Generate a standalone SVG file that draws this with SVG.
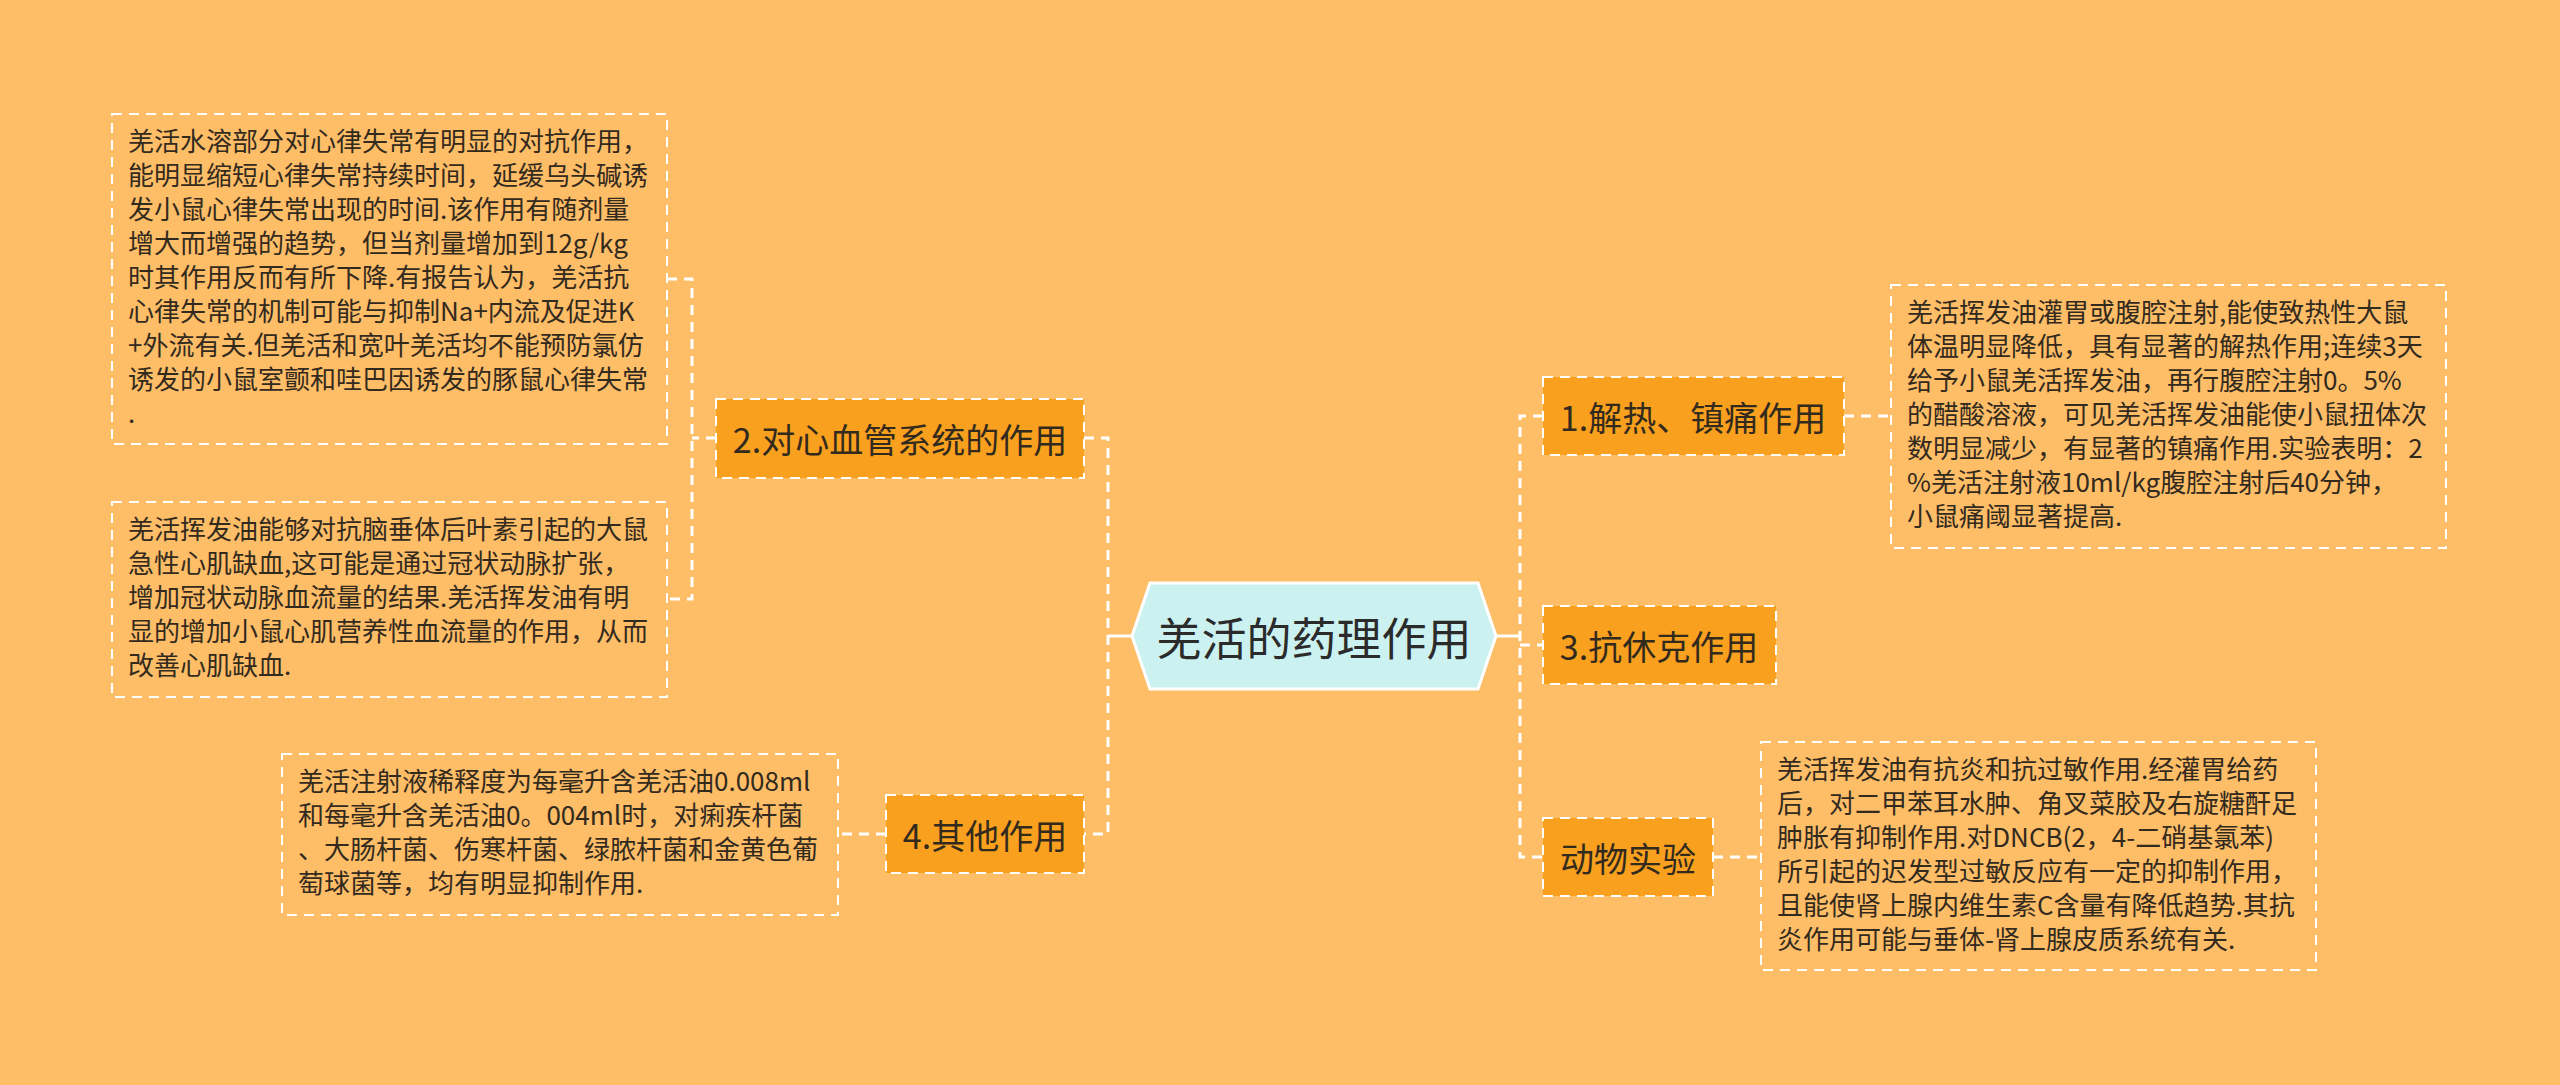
<svg xmlns="http://www.w3.org/2000/svg" width="2560" height="1085" viewBox="0 0 2560 1085">
<style>
.bg{fill:#FEBD67}
.l1{fill:#F9A01E;stroke:#FFFFFF;stroke-width:2;stroke-dasharray:10 7}
.leaf{fill:none;stroke:#FFFFFF;stroke-width:2;stroke-dasharray:10 7}
.root{fill:#CBF1F0;stroke:#FFFFFF;stroke-width:3}
.t1{font-family:"Noto Sans CJK SC","Microsoft YaHei",sans-serif;font-size:34px;fill:#332A1E;text-anchor:middle;dominant-baseline:central}
.tr{font-family:"Noto Sans CJK SC","Microsoft YaHei",sans-serif;font-size:45px;fill:#2B2B2B;text-anchor:middle;dominant-baseline:central}
.tl{font-family:"Noto Sans CJK SC","Microsoft YaHei",sans-serif;font-size:26px;fill:#332A1E}
.c{fill:none;stroke:#FFFFFF;stroke-width:3;stroke-dasharray:10 7}
.cs{fill:none;stroke:#FFFFFF;stroke-width:3}
</style>
<rect class="bg" x="0" y="0" width="2560" height="1085"/>
<g id="connectors">
  <path class="cs" d="M1132 636 H1108"/>
  <path class="c" d="M1084 438 H1108 V834 H1084"/>
  <path class="c" d="M716 438 H692"/>
  <path class="c" d="M667 279 H692 V599 H667"/>
  <path class="c" d="M886 834 H838"/>
  <path class="cs" d="M1494 636 H1520"/>
  <path class="c" d="M1543 416 H1520 V857 H1543"/>
  <path class="c" d="M1520 645 H1543"/>
  <path class="c" d="M1844 416 H1891"/>
  <path class="c" d="M1713 857 H1761"/>
</g>
<g id="root">
  <polygon class="root" points="1132,636 1150,583 1478,583 1496,636 1478,689 1150,689"/>
  <text class="tr" x="1314" y="636">羌活的药理作用</text>
</g>
<g id="n2">
  <rect class="l1" x="716" y="399" width="368" height="79"/>
  <text class="t1" x="900" y="438">2.对心血管系统的作用</text>
</g>
<g id="n4">
  <rect class="l1" x="886" y="795" width="198" height="78"/>
  <text class="t1" x="985" y="834">4.其他作用</text>
</g>
<g id="n1">
  <rect class="l1" x="1543" y="377" width="301" height="78"/>
  <text class="t1" x="1693" y="416">1.解热、镇痛作用</text>
</g>
<g id="n3">
  <rect class="l1" x="1543" y="606" width="233" height="78"/>
  <text class="t1" x="1659" y="645">3.抗休克作用</text>
</g>
<g id="n5">
  <rect class="l1" x="1543" y="818" width="170" height="78"/>
  <text class="t1" x="1628" y="857">动物实验</text>
</g>
<g id="leafL1">
  <rect class="leaf" x="112" y="114" width="555" height="330"/>
  <text class="tl" x="128" y="151">
    <tspan x="128" dy="0">羌活水溶部分对心律失常有明显的对抗作用，</tspan>
    <tspan x="128" dy="34">能明显缩短心律失常持续时间，延缓乌头碱诱</tspan>
    <tspan x="128" dy="34">发小鼠心律失常出现的时间.该作用有随剂量</tspan>
    <tspan x="128" dy="34">增大而增强的趋势，但当剂量增加到12g/kg</tspan>
    <tspan x="128" dy="34">时其作用反而有所下降.有报告认为，羌活抗</tspan>
    <tspan x="128" dy="34">心律失常的机制可能与抑制Na+内流及促进K</tspan>
    <tspan x="128" dy="34">+外流有关.但羌活和宽叶羌活均不能预防氯仿</tspan>
    <tspan x="128" dy="34">诱发的小鼠室颤和哇巴因诱发的豚鼠心律失常</tspan>
    <tspan x="128" dy="34">.</tspan>
  </text>
</g>
<g id="leafL2">
  <rect class="leaf" x="112" y="502" width="555" height="195"/>
  <text class="tl" x="128" y="539">
    <tspan x="128" dy="0">羌活挥发油能够对抗脑垂体后叶素引起的大鼠</tspan>
    <tspan x="128" dy="34">急性心肌缺血,这可能是通过冠状动脉扩张，</tspan>
    <tspan x="128" dy="34">增加冠状动脉血流量的结果.羌活挥发油有明</tspan>
    <tspan x="128" dy="34">显的增加小鼠心肌营养性血流量的作用，从而</tspan>
    <tspan x="128" dy="34">改善心肌缺血.</tspan>
  </text>
</g>
<g id="leafL3">
  <rect class="leaf" x="282" y="754" width="556" height="161"/>
  <text class="tl" x="298" y="791">
    <tspan x="298" dy="0">羌活注射液稀释度为每毫升含羌活油0.008ml</tspan>
    <tspan x="298" dy="34">和每毫升含羌活油0。004ml时，对痢疾杆菌</tspan>
    <tspan x="298" dy="34">、大肠杆菌、伤寒杆菌、绿脓杆菌和金黄色葡</tspan>
    <tspan x="298" dy="34">萄球菌等，均有明显抑制作用.</tspan>
  </text>
</g>
<g id="leafR1">
  <rect class="leaf" x="1891" y="285" width="555" height="263"/>
  <text class="tl" x="1907" y="322">
    <tspan x="1907" dy="0">羌活挥发油灌胃或腹腔注射,能使致热性大鼠</tspan>
    <tspan x="1907" dy="34">体温明显降低，具有显著的解热作用;连续3天</tspan>
    <tspan x="1907" dy="34">给予小鼠羌活挥发油，再行腹腔注射0。5%</tspan>
    <tspan x="1907" dy="34">的醋酸溶液，可见羌活挥发油能使小鼠扭体次</tspan>
    <tspan x="1907" dy="34">数明显减少，有显著的镇痛作用.实验表明：2</tspan>
    <tspan x="1907" dy="34">%羌活注射液10ml/kg腹腔注射后40分钟，</tspan>
    <tspan x="1907" dy="34">小鼠痛阈显著提高.</tspan>
  </text>
</g>
<g id="leafR4">
  <rect class="leaf" x="1761" y="742" width="555" height="228"/>
  <text class="tl" x="1777" y="779">
    <tspan x="1777" dy="0">羌活挥发油有抗炎和抗过敏作用.经灌胃给药</tspan>
    <tspan x="1777" dy="34">后，对二甲苯耳水肿、角叉菜胶及右旋糖酐足</tspan>
    <tspan x="1777" dy="34">肿胀有抑制作用.对DNCB(2，4-二硝基氯苯)</tspan>
    <tspan x="1777" dy="34">所引起的迟发型过敏反应有一定的抑制作用，</tspan>
    <tspan x="1777" dy="34">且能使肾上腺内维生素C含量有降低趋势.其抗</tspan>
    <tspan x="1777" dy="34">炎作用可能与垂体-肾上腺皮质系统有关.</tspan>
  </text>
</g>
</svg>
